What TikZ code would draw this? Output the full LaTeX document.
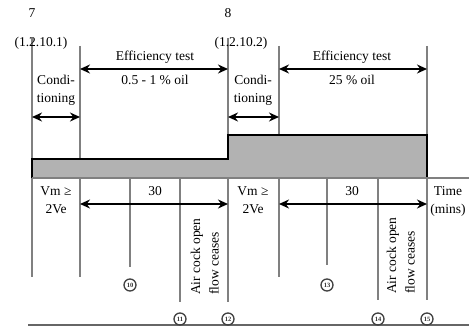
\documentclass[tikz,border=0pt]{standalone}
\usepackage{fontspec}
\setmainfont{Liberation Serif}
\usetikzlibrary{arrows.meta}
\begin{document}
\begin{tikzpicture}[x=1pt,y=-1pt,
  lbl/.style={font=\fontsize{13.5}{15}\selectfont, inner sep=0pt},
  rot/.style={font=\fontsize{13.5}{15}\selectfont, inner sep=0pt, rotate=90, anchor=west},
  circ/.style={circle, draw=black!75, line width=1.3pt, minimum size=12pt, inner sep=0pt,
    font=\fontsize{6.5}{7}\selectfont\bfseries, text=black!80},
  vline/.style={draw=black!50, line width=2.4pt},
  dbl/.style={{Stealth[length=10pt,width=9pt]}-{Stealth[length=10pt,width=9pt]}, line width=1.5pt},
  edge/.style={line width=1.5pt}]
\useasboundingbox (0,0) rectangle (469,326);
% line end points
\coordinate (a1) at (32,38);  \coordinate (a2) at (32,277);
\coordinate (b1) at (80,46);  \coordinate (b2) at (80,277);
\coordinate (c1) at (130,178);\coordinate (c2) at (130,267);
\coordinate (d1) at (180,178);\coordinate (d2) at (180,302);
\coordinate (e1) at (228,38); \coordinate (e2) at (228,302);
\coordinate (f1) at (279,46); \coordinate (f2) at (279,277);
\coordinate (g1) at (327,178);\coordinate (g2) at (327,265);
\coordinate (h1) at (378,178);\coordinate (h2) at (378,300);
\coordinate (i1) at (427,46); \coordinate (i2) at (427,300);
\foreach \p in {a,b,c,d,e,f,g,h,i} \draw[vline] (\p1) -- (\p2);
% bar
\coordinate (s0) at (32,159); \coordinate (s1) at (228,159);
\coordinate (s2) at (228,135); \coordinate (s3) at (427,135);
\coordinate (s4) at (427,178); \coordinate (s5) at (32,178);
\fill[black!30] (s0) -- (s1) -- (s2) -- (s3) -- (s4) -- (s5) -- cycle;
\draw[edge] (s5) -- (s0) -- (s1) -- (s2) -- (s3) -- (s4);
\coordinate (base0) at (32,178); \coordinate (base1) at (469,178);
\draw[draw=black!50, line width=2pt] (base0) -- (base1);
\coordinate (bot0) at (28,325); \coordinate (bot1) at (469,325);
\draw[draw=black!60, line width=1.5pt] (bot0) -- (bot1);
% top labels
\node[lbl] (n7) at (32,13) {7};
\node[lbl] (n8) at (228,13) {8};
\node[lbl] (r1) at (41,43) {(1.2.10.1)};
\node[lbl] (r2) at (241,43) {(1.2.10.2)};
\node[lbl] (et1) at (155,57) {Efficiency test};
\node[lbl] (oil1) at (155,80) {0.5 - 1 \% oil};
\node[lbl] (et2) at (352,57) {Efficiency test};
\node[lbl] (oil2) at (352,80) {25 \% oil};
\node[lbl] (cd1) at (56,80) {Condi-};
\node[lbl] (ti1) at (56,99) {tioning};
\node[lbl] (cd2) at (253,80) {Condi-};
\node[lbl] (ti2) at (253,99) {tioning};
% arrows top
\coordinate (ea1) at (80,69); \coordinate (eb1) at (228,69);
\coordinate (ea2) at (279,69); \coordinate (eb2) at (427,69);
\draw[dbl] (ea1) -- (eb1);
\draw[dbl] (ea2) -- (eb2);
\coordinate (ca1) at (32,117); \coordinate (cb1) at (80,117);
\coordinate (ca2) at (228,117); \coordinate (cb2) at (279,117);
\draw[dbl] (ca1) -- (cb1);
\draw[dbl] (ca2) -- (cb2);
% lower labels
\node[lbl] (vm1) at (56,191) {Vm ≥};
\node[lbl] (ve1) at (56,209) {2Ve};
\node[lbl] (vm2) at (253,191) {Vm ≥};
\node[lbl] (ve2) at (253,209) {2Ve};
\node[lbl] (t1) at (155,191) {30};
\node[lbl] (t2) at (352,191) {30};
\node[lbl] (tm) at (448,191) {Time};
\node[lbl] (mn) at (448,210) {(mins)};
\coordinate (ta1) at (80,204); \coordinate (tb1) at (228,204);
\coordinate (ta2) at (279,204); \coordinate (tb2) at (427,204);
\draw[dbl] (ta1) -- (tb1);
\draw[dbl] (ta2) -- (tb2);
% rotated labels
\node[rot] (ac1) at (197,295) {Air cock open};
\node[rot] (fc1) at (214,295) {flow ceases};
\node[rot] (ac2) at (393,294) {Air cock open};
\node[rot] (fc2) at (410,294) {flow ceases};
% circled numbers
\node[circ] (k10) at (130,285) {10};
\node[circ] (k11) at (180,319) {11};
\node[circ] (k12) at (228,319) {12};
\node[circ] (k13) at (327,285) {13};
\node[circ] (k14) at (378,319) {14};
\node[circ] (k15) at (427,319) {15};
\end{tikzpicture}
\end{document}
